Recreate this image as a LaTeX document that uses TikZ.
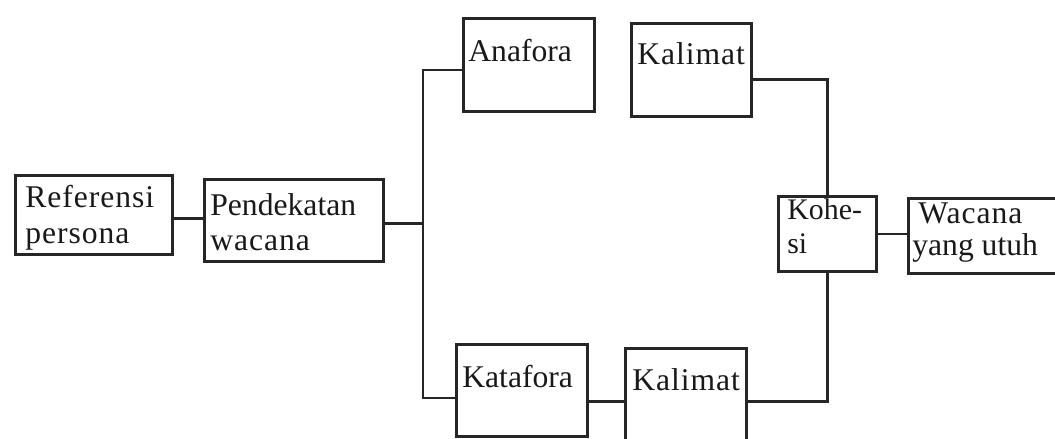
\documentclass[tikz,border=0pt]{standalone}
\usepackage{fontspec}
\setmainfont{Liberation Serif}
\newfontfamily\spfont[LetterSpace=3]{Liberation Serif}
\begin{document}
\begin{tikzpicture}[x=0.02cm,y=-0.02cm,
  box/.style={draw=black!85,line width=1.6pt,rectangle,inner sep=0pt,anchor=north west},
  txt/.style={anchor=base west,inner sep=0pt,font=\fontsize{18}{20}\selectfont,text=black!90},
  sptxt/.style={txt,font=\fontsize{18}{20}\spfont},
  smtxt/.style={txt,font=\fontsize{17}{20}\selectfont},
  conn/.style={draw=black!85,line width=1.6pt}]
\useasboundingbox (0,0) rectangle (1055,439);
\clip (0,0) rectangle (1055,439);
% boxes
\node[box,minimum width=157*0.02cm,minimum height=79*0.02cm] (ref) at (14,174) {};
\node[box,minimum width=179*0.02cm,minimum height=82*0.02cm] (pend) at (203,178) {};
\node[box,minimum width=131*0.02cm,minimum height=93*0.02cm] (ana) at (462,17) {};
\node[box,minimum width=120*0.02cm,minimum height=93*0.02cm] (kalA) at (630,22) {};
\node[box,minimum width=131*0.02cm,minimum height=92*0.02cm] (kat) at (455,343) {};
\node[box,minimum width=121*0.02cm,minimum height=110*0.02cm] (kalB) at (624,347) {};
\node[box,minimum width=98*0.02cm,minimum height=75*0.02cm] (koh) at (777,195) {};
\node[box,minimum width=170*0.02cm,minimum height=75*0.02cm] (wac) at (907,197) {};
% texts
\node[sptxt] (t1) at (25,207) {Referensi};
\node[sptxt] (t2) at (25,243) {persona};
\node[txt] (t3) at (210,215) {Pendekatan};
\node[sptxt] (t4) at (210,250) {wacana};
\node[txt] (t5) at (468,62) {Anafora};
\node[sptxt] (t6) at (637,65) {Kalimat};
\node[txt] (t7) at (462,387) {Katafora};
\node[sptxt] (t8) at (632,390) {Kalimat};
\node[smtxt] (t9) at (787,219) {Kohe-};
\node[smtxt] (t10) at (787,253) {si};
\node[sptxt] (t11) at (918,223) {Wacana};
\node[txt] (t12) at (912,255) {yang utuh};
% junctions
\coordinate (jt) at (423,70);
\coordinate (jb) at (423,398);
% connectors
\draw[conn] ([yshift=-0.08cm]ref.east) -- ([yshift=-0.08cm]ref.east -| pend.west);
\draw[conn] ([yshift=-0.06cm]pend.east) -- ([yshift=-0.06cm]pend.east -| jt);
\draw[conn] (jt -| ana.west) -- (jt) -- (jb) -- (jb -| kat.west);
\draw[conn] ([yshift=-0.22cm]kat.east) -- ([yshift=-0.22cm]kat.east -| kalB.west);
\draw[conn] ([yshift=-0.2cm]kalA.east) -| (koh.north);
\draw[conn] ([yshift=0.04cm]kalB.east) -| (koh.south);
\draw[conn] (koh.east) -- (koh.east -| wac.west);
\end{tikzpicture}
\end{document}
